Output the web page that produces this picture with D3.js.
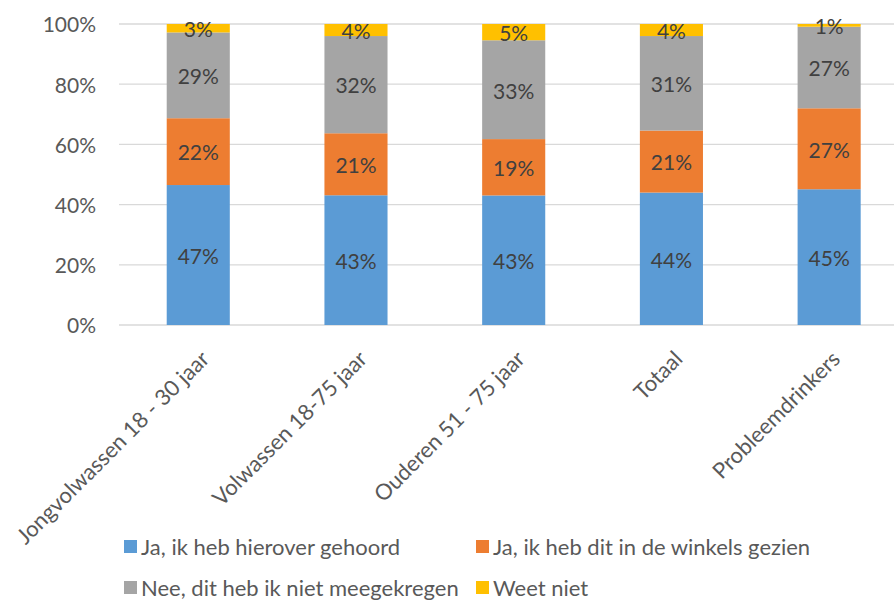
<!DOCTYPE html>
<html><head><meta charset="utf-8">
<script src="https://cdn.jsdelivr.net/npm/d3@7"></script>
<style>html,body{margin:0;padding:0;background:#fff;overflow:hidden}</style>
</head><body><svg id="c" width="894" height="603"></svg>
<script>
const categories = ["Jongvolwassen 18 - 30 jaar","Volwassen 18-75 jaar","Ouderen 51 - 75 jaar","Totaal","Probleemdrinkers"];
const seriesNames = ["Ja, ik heb hierover gehoord","Ja, ik heb dit in de winkels gezien","Nee, dit heb ik niet meegekregen","Weet niet"];
const seriesColors = ["#5B9BD5","#ED7D31","#A5A5A5","#FFC000"];
const gehoord = [46.5, 43.1, 43.0, 44.0, 45.1];
const gezien = [22.2, 20.6, 18.7, 20.6, 26.9];
const nietMeegekregen = [28.5, 32.3, 32.8, 31.4, 27.1];
const weetNiet = [2.8, 4.0, 5.4, 4.0, 0.9];
const yTicks = [0, 0.2, 0.4, 0.6, 0.8, 1.0];

const seriesValues = [gehoord, gezien, nietMeegekregen, weetNiet];
const rows = categories.map((c, i) => {
  const r = {cat: c};
  seriesNames.forEach((s, j) => r[s] = seriesValues[j][i]);
  return r;
});
const stacked = d3.stack().keys(seriesNames).offset(d3.stackOffsetExpand)(rows);

const svg = d3.select("#c");
const font = "Lato, 'Open Sans', sans-serif";
const x = d3.scaleBand().domain(categories).range([119.4, 908]).paddingInner(0.6).paddingOuter(0.3);
const y = d3.scaleLinear().domain([0, 1]).range([325, 24]);

// gridlines
svg.append("g").selectAll("line").data(yTicks).join("line")
  .attr("x1", 119).attr("x2", 908)
  .attr("y1", d => y(d)).attr("y2", d => y(d))
  .attr("stroke", "#d9d9d9").attr("stroke-width", 1.3);

// y-axis labels
const yAxis = d3.axisLeft(y).tickValues(yTicks).tickFormat(d3.format(".0%")).tickSize(0).tickPadding(23);
const ya = svg.append("g").attr("transform", "translate(119,0)").call(yAxis);
ya.select(".domain").remove();
ya.selectAll("text").attr("font-family", font).attr("font-size", 21).attr("fill", "#595959").attr("dy", "0.38em");

// bars
const groups = svg.append("g").selectAll("g").data(stacked).join("g")
  .attr("fill", (d, i) => seriesColors[i]);
groups.selectAll("rect").data(d => d).join("rect")
  .attr("x", d => x(d.data.cat))
  .attr("width", x.bandwidth())
  .attr("y", d => y(d[1]))
  .attr("height", d => y(d[0]) - y(d[1]));

// data labels
const lab = svg.append("g");
stacked.forEach((s, j) => {
  s.forEach((d, i) => {
    lab.append("text")
      .attr("x", x(d.data.cat) + x.bandwidth() / 2)
      .attr("y", (y(d[0]) + y(d[1])) / 2)
      .attr("dy", "0.42em")
      .attr("text-anchor", "middle")
      .attr("font-family", font).attr("font-size", 21).attr("fill", "#404040")
      .text(Math.round(seriesValues[j][i]) + "%");
  });
});

// x-axis category labels
const xAxis = d3.axisBottom(x).tickSize(0).tickPadding(0);
const xa = svg.append("g").attr("transform", "translate(0,325)").call(xAxis);
xa.select(".domain").remove();
xa.selectAll("text")
  .attr("font-family", font).attr("font-size", 22).attr("fill", "#595959")
  .attr("text-anchor", "end")
  .attr("transform", "translate(7,30) rotate(-45)")
  .attr("x", 0).attr("y", 0).attr("dy", "0.35em");

// legend
const legendPos = [[124, 547], [476, 547], [124, 588], [476, 588]];
const lg = svg.append("g");
seriesNames.forEach((s, i) => {
  const [lx, ly] = legendPos[i];
  lg.append("rect").attr("x", lx).attr("y", ly - 7).attr("width", 13).attr("height", 13).attr("fill", seriesColors[i]);
  lg.append("text").attr("x", lx + 17).attr("y", ly).attr("dy", "0.35em")
    .attr("font-family", font).attr("font-size", 22).attr("fill", "#595959").text(s);
});
</script></body></html>
